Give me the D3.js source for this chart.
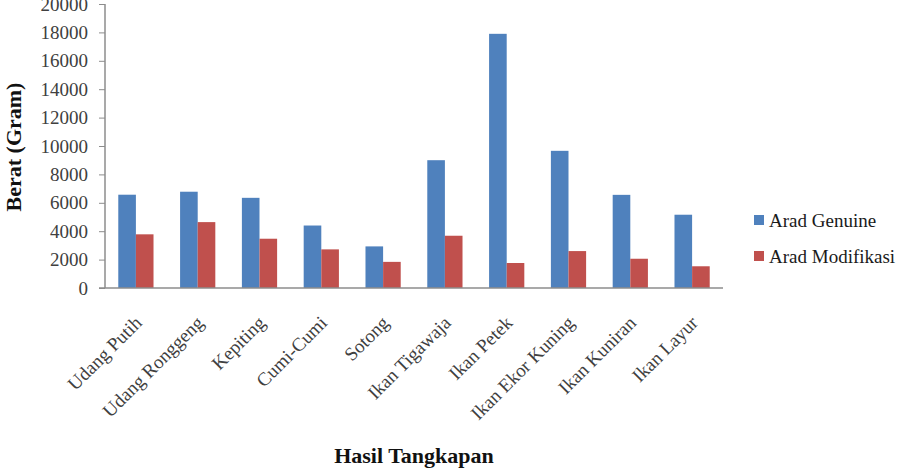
<!DOCTYPE html>
<html>
<head>
<meta charset="utf-8">
<script src="https://cdn.jsdelivr.net/npm/d3@7"></script>
<style>
body { margin: 0; background: #fff; }
svg { font-family: "Liberation Serif", "Times New Roman", serif; }
</style>
</head>
<body>
<script>
"use strict";

var categories = ["Udang Putih", "Udang Ronggeng", "Kepiting", "Cumi-Cumi", "Sotong",
    "Ikan Tigawaja", "Ikan Petek", "Ikan Ekor Kuning", "Ikan Kuniran", "Ikan Layur"];
var seriesNames = ["Arad Genuine", "Arad Modifikasi"];
var genuine = [6570, 6780, 6350, 4400, 2930, 9000, 17900, 9660, 6560, 5160];
var modifikasi = [3780, 4640, 3470, 2720, 1840, 3680, 1760, 2600, 2060, 1530];
var yTicks = [0, 2000, 4000, 6000, 8000, 10000, 12000, 14000, 16000, 18000, 20000];
var colors = ["#4f81bd", "#c0504d"];

var width = 906;
var height = 468;
var margin = {left: 105, right: 183, top: 4, bottom: 180};

var svg = d3.select("body").append("svg")
    .attr("width", width)
    .attr("height", height);

var x = d3.scaleBand()
    .domain(categories)
    .range([margin.left, width - margin.right])
    .paddingInner(0.43)
    .paddingOuter(0.215);

var xInner = d3.scaleBand()
    .domain(seriesNames)
    .range([0, x.bandwidth()]);

var y = d3.scaleLinear()
    .domain([0, 20000])
    .range([height - margin.bottom, margin.top]);

// y axis
var yAxis = svg.append("g")
    .attr("transform", "translate(" + margin.left + ",0)")
    .call(d3.axisLeft(y).tickValues(yTicks).tickSize(6).tickPadding(11).tickFormat(d3.format("d")));
yAxis.attr("font-family", null).attr("font-size", null);
yAxis.selectAll("text").attr("font-size", 19).attr("fill", "#404040");
yAxis.selectAll("line").attr("stroke", "#8c8c8c");
yAxis.select(".domain").attr("stroke", "#8c8c8c").attr("stroke-width", 1.5)
    .attr("d", "M0," + y(20000) + "V" + y(0));

// bars
var rows = categories.map(function(c, i) {
    return {cat: c, values: [genuine[i], modifikasi[i]]};
});

var groups = svg.append("g")
    .selectAll("g")
    .data(rows)
    .enter()
    .append("g")
    .attr("transform", function(d) { return "translate(" + x(d.cat) + ",0)"; });

groups.selectAll("rect")
    .data(function(d) { return d.values.map(function(v, j) { return {name: seriesNames[j], value: v, j: j}; }); })
    .enter()
    .append("rect")
    .attr("x", function(d) { return xInner(d.name); })
    .attr("width", xInner.bandwidth())
    .attr("y", function(d) { return y(d.value); })
    .attr("height", function(d) { return y(0) - y(d.value); })
    .attr("fill", function(d) { return colors[d.j]; });

// x axis line
svg.append("line")
    .attr("x1", margin.left - 6)
    .attr("x2", width - margin.right)
    .attr("y1", y(0))
    .attr("y2", y(0))
    .attr("stroke", "#8c8c8c")
    .attr("stroke-width", 1.5);

// category labels
svg.append("g")
    .selectAll("text")
    .data(categories)
    .enter()
    .append("text")
    .attr("transform", function(d) {
        return "translate(" + (x(d) + x.bandwidth() / 2 + 7) + "," + (y(0) + 36) + ") rotate(-45)";
    })
    .attr("text-anchor", "end")
    .attr("font-size", 19)
    .attr("fill", "#404040")
    .text(function(d) { return d; });

// axis titles
svg.append("text")
    .attr("transform", "translate(21," + 147 + ") rotate(-90)")
    .attr("text-anchor", "middle")
    .attr("font-size", 22)
    .attr("font-weight", "bold")
    .attr("fill", "#111")
    .text("Berat (Gram)");

svg.append("text")
    .attr("x", (margin.left + width - margin.right) / 2)
    .attr("y", 463)
    .attr("text-anchor", "middle")
    .attr("font-size", 22)
    .attr("font-weight", "bold")
    .attr("fill", "#111")
    .text("Hasil Tangkapan");

// legend
var legend = svg.append("g")
    .selectAll("g")
    .data(seriesNames)
    .enter()
    .append("g")
    .attr("transform", function(d, i) { return "translate(754," + (215 + i * 36) + ")"; });

legend.append("rect")
    .attr("width", 10)
    .attr("height", 10)
    .attr("fill", function(d, i) { return colors[i]; });

legend.append("text")
    .attr("x", 15)
    .attr("y", 12)
    .attr("font-size", 19)
    .attr("fill", "#1a1a1a")
    .text(function(d) { return d; });
</script>
</body>
</html>
